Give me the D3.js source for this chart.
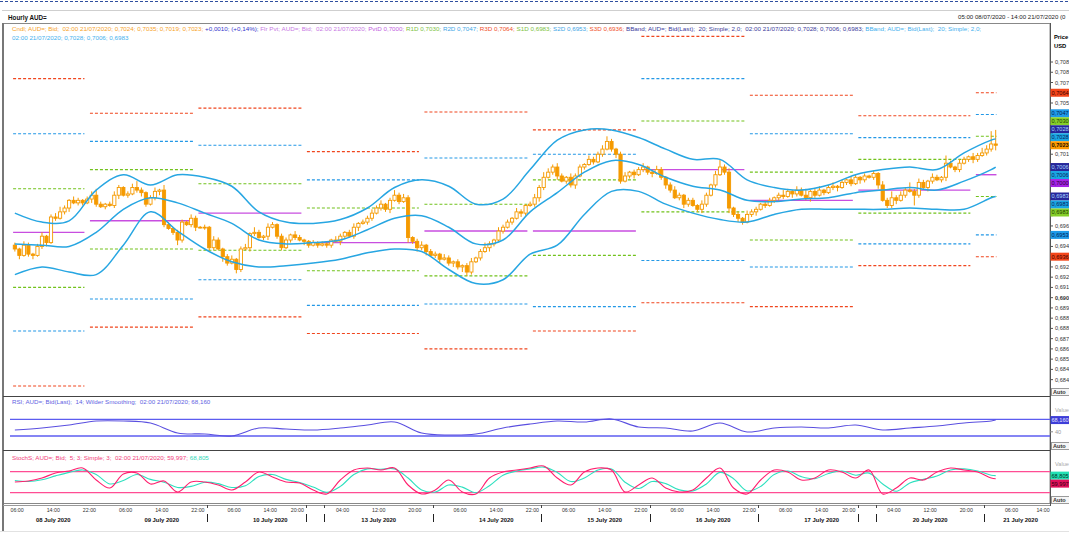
<!DOCTYPE html>
<html>
<head>
<meta charset="utf-8">
<script src="https://cdn.jsdelivr.net/npm/d3@7"></script>
<style>
  body { margin: 0; background: #fff; }
  svg { display: block; font-family: "Liberation Sans", Arial, sans-serif; }
  text { white-space: pre; }
</style>
</head>
<body>
<svg id="chart" width="1069" height="537"></svg>
<script>
// trading sessions shown on the time axis: [date, first hour, last hour]
const sessions = [
  ["2020-07-08", 5, 23], ["2020-07-09", 0, 23], ["2020-07-10", 0, 21],
  ["2020-07-12", 20, 23], ["2020-07-13", 0, 23], ["2020-07-14", 0, 23],
  ["2020-07-15", 0, 23], ["2020-07-16", 0, 23], ["2020-07-17", 0, 21],
  ["2020-07-19", 20, 23], ["2020-07-20", 0, 23], ["2020-07-21", 0, 14]
];

// hourly candles AUD= (prices x 10000), 08/07 05:00 .. 21/07 02:00
const firstOpen = 6945;
const closes = [
  6942,6937,6945,6938,6937,6944,6952,6947,6967,6966,
  6971,6974,6980,6978,6980,6978,6981,6984,6977,6975,
  6977,6976,6984,6990,6984,6985,6990,6988,6986,6977,
  6982,6987,6988,6961,6958,6955,6949,6963,6961,6966,
  6959,6959,6959,6943,6949,6942,6936,6931,6934,6926,
  6942,6943,6954,6955,6951,6952,6959,6961,6952,6943,
  6949,6953,6951,6949,6948,6945,6947,6945,6946,6945,
  6949,6948,6952,6955,6952,6959,6962,6963,6966,6970,
  6974,6977,6973,6980,6984,6979,6982,6951,6948,6943,
  6945,6940,6937,6938,6934,6935,6931,6932,6928,6929,
  6924,6932,6935,6940,6943,6946,6949,6956,6959,6963,
  6966,6971,6970,6976,6977,6982,6990,6998,7002,7006,
  6999,6995,6998,6992,6999,7006,7008,7012,7010,7016,
  7020,7026,7020,7016,6995,6999,7002,7000,7004,7006,
  7002,7001,7004,6998,6992,6988,6982,6984,6977,6980,
  6976,6973,6977,6984,6992,7000,7006,7002,6974,6969,
  6966,6963,6969,6971,6973,6977,6976,6980,6982,6984,
  6983,6987,6985,6988,6984,6982,6987,6984,6988,6986,
  6990,6991,6990,6994,6996,6993,6998,6996,6999,6998,
  7001,6992,6980,6976,6982,6980,6984,6988,6987,6984,
  6994,6990,6995,6998,6996,6998,7009,7006,7004,7009,
  7012,7014,7012,7015,7017,7020,7024,7023
];
const wickUp = [
  2,1,3,2,1,2,3,1,2,3, 4,2,1,3,2,1,2,3,5,2, 1,2,3,2,1,2,3,5,2,1,
  2,3,1,4,2,1,2,2,1,3, 2,1,2,1,3,2,1,2,3,1, 2,3,1,4,2,1,3,2,1,2,
  2,1,3,2,1,1,2,1,2,2, 1,3,2,1,2,3,1,2,2,3, 2,3,1,2,4,2,3,2,1,2,
  3,1,2,2,1,3,2,1,2,1, 2,3,1,2,4,2,1,3,2,2, 1,3,2,1,2,3,2,4,3,2,
  3,2,1,3,2,2,1,3,2,2, 3,4,2,1,2,3,1,2,2,3, 1,2,3,2,1,2,3,2,1,2,
  2,1,3,2,1,3,6,2,3,1, 2,1,3,2,2,1,3,2,1,2, 4,2,1,3,2,5,1,2,3,1,
  2,3,1,2,1,3,2,1,2,1, 2,1,3,2,5,2,3,2,6,2, 3,2,1,3,2,1,6,2,1,3,
  2,1,3,2,4,3,10,11
];
const wickDown = [
  2,3,1,2,3,1,2,3,1,2, 1,2,3,1,2,2,1,3,2,1, 2,1,2,3,1,2,1,2,3,2,
  1,2,3,2,1,2,4,2,1,2, 3,1,2,3,2,1,4,2,1,3, 2,1,3,2,1,2,3,1,2,2,
  1,2,2,1,3,2,1,2,1,2, 2,1,3,2,1,2,3,1,2,2, 1,2,2,3,1,2,1,4,2,3,
  2,3,1,2,3,1,2,3,2,4, 3,2,1,2,1,3,2,1,2,1, 2,1,3,2,1,2,3,2,1,2,
  3,1,2,2,3,1,2,1,2,1, 2,1,2,3,2,1,2,3,1,2, 2,3,1,2,3,2,1,2,3,2,
  1,2,3,2,1,2,1,2,4,2, 3,2,1,2,3,1,2,1,2,3, 2,1,3,2,1,2,3,2,1,2,
  1,2,3,1,2,2,1,3,2,1, 2,3,1,2,2,3,1,2,1,8, 2,1,3,2,1,2,3,1,2,2,
  1,2,3,2,1,2,2,4
];

// floor pivots, one period per forex day (starts at 22:00)
const pivotStarts = ["2020-07-08 05","2020-07-08 22","2020-07-09 22","2020-07-12 20","2020-07-13 22",
                     "2020-07-14 22","2020-07-15 22","2020-07-16 22","2020-07-19 20","2020-07-20 22"];
const pivR3 = [0.7075,0.7048,0.7052,0.7018,0.7049,0.7035,0.7108,0.7062,0.7046,0.7064];
const pivR2 = [0.7032,0.7026,0.7023,0.6996,0.7013,0.7016,0.7075,0.7032,0.7029,0.7047];
const pivR1 = [0.6989,0.7004,0.6993,0.6974,0.6977,0.6996,0.7042,0.7002,0.7012,0.7030];
const pivP  = [0.6955,0.6964,0.6970,0.6947,0.6956,0.6956,0.7004,0.6980,0.6988,0.7000];
const pivS1 = [0.6912,0.6942,0.6941,0.6925,0.6921,0.6937,0.6971,0.6949,0.6970,0.6983];
const pivS2 = [0.6878,0.6903,0.6918,0.6898,0.6899,0.6897,0.6933,0.6928,0.6946,0.6953];
const pivS3 = [0.6835,0.6881,0.6889,0.6876,0.6864,0.6878,0.6900,0.6897,0.6929,0.6936];

// Bollinger band (20; 2,0) read every 6 hours
const bbUpper = [0.6970,0.6963,0.6964,0.6988,0.7000,0.6992,0.7000,0.6998,0.6991,0.6971,
                 0.6963,0.6962,0.6965,0.6974,0.6990,0.6996,0.6991,0.6977,0.6981,0.7004,
                 0.7027,0.7035,0.7035,0.7029,0.7020,0.7012,0.7012,0.6996,0.6990,0.6988,
                 0.6992,0.7000,0.7004,0.7006,0.7004,0.7017,0.7027,0.7028];
const bbMiddle = [0.6946,0.6945,0.6944,0.6955,0.6973,0.6982,0.6978,0.6970,0.6962,0.6949,
                  0.6946,0.6947,0.6949,0.6957,0.6966,0.6968,0.6959,0.6946,0.6949,0.6971,
                  0.6986,0.7002,0.7011,0.7008,0.6998,0.6991,0.6988,0.6980,0.6979,0.6981,
                  0.6982,0.6986,0.6988,0.6990,0.6988,0.6995,0.7004,0.7006];
const bbLower = [0.6922,0.6928,0.6924,0.6922,0.6945,0.6971,0.6956,0.6942,0.6932,0.6928,
                 0.6929,0.6931,0.6934,0.6939,0.6942,0.6940,0.6926,0.6915,0.6918,0.6938,
                 0.6945,0.6969,0.6987,0.6987,0.6977,0.6970,0.6965,0.6963,0.6969,0.6973,
                 0.6973,0.6973,0.6973,0.6974,0.6973,0.6973,0.6982,0.6983];

// RSI 14 read every 6 hours
const rsiValues = [44.4,49.2,56.3,65.9,65.9,61.1,37.2,34.8,30.0,49.2,46.8,44.4,49.2,56.3,63.5,
                   37.2,32.4,34.8,49.2,58.7,65.9,63.5,70.7,51.6,49.2,42.0,61.1,39.6,49.2,51.6,
                   49.2,56.3,44.4,49.2,54.0,61.1,65.9,68.16];

// Slow stochastic (5;3;3) read every 3 hours
const stochK = [50.6,53.4,62,76.3,82,90.6,56.3,33.4,73.4,76.3,44.9,53.4,22,50.6,50.6,42,27.7,50.6,
                79.1,64.9,50.6,47.7,27.7,16.3,56.3,84.9,90.6,84.9,90.6,42,16.3,27.7,56.3,22,16.3,
                62,79.1,84.9,90.6,96.3,62,42,79.1,90.6,84.9,22,42,62,33.4,22,27.7,62,90.6,33.4,
                16.3,56.3,84.9,79.1,56.3,62,84.9,79.1,62,84.9,16.3,33.4,62,56.3,79.1,90.6,84.9,
                79.1,62,59.997];
const stochD = [55,52,57,68,78,85,72,45,55,72,58,50,35,38,50,46,35,40,66,72,58,49,36,21,38,72,88,
                87,88,62,28,22,42,36,20,40,70,82,88,93,78,52,62,85,88,50,32,52,46,28,25,45,78,60,
                25,38,72,82,66,60,75,82,70,76,45,24,48,58,68,85,88,82,70,68.805];

// time axis labels
const tickDays  = ["2020-07-08","2020-07-09","2020-07-10","2020-07-13","2020-07-14",
                   "2020-07-15","2020-07-16","2020-07-17","2020-07-20","2020-07-21"];
const tickHours = [[6,14,22],[6,14,22],[6,14,20],[4,12,20],[6,14,22],
                   [6,14,22],[6,14,22],[6,14,20],[4,12,20],[6,14]];
const dayLabels = ["08 July 2020","09 July 2020","10 July 2020","13 July 2020","14 July 2020",
                   "15 July 2020","16 July 2020","17 July 2020","20 July 2020","21 July 2020"];
const dayLabelHour = [14,14,14,12,14,14,14,14,12,8];
const dayBreaks = ["2020-07-10 00","2020-07-12 20","2020-07-13 00","2020-07-14 00","2020-07-15 00",
                   "2020-07-16 00","2020-07-17 00","2020-07-19 20","2020-07-20 00","2020-07-21 00"];

////////////////////////////////////////////////////////////
const svg = d3.select("#chart");
const pad2 = n => String(n).padStart(2, "0");
const comma = (v, p) => d3.format("." + p + "f")(v).replace(".", ",");

// hourly slots
const slotKeys = [];
sessions.forEach(([d, h0, h1]) => { for (let h = h0; h <= h1; h++) slotKeys.push(d + " " + pad2(h)); });
const slotOf = new Map(slotKeys.map((k, i) => [k, i]));
const nSlots = slotKeys.length;

const x = d3.scaleLinear().domain([0, nSlots]).range([12.6, 12.6 + nSlots * 4.52]);
const y = d3.scaleLinear().domain([0.6828, 0.7113]).range([395, 30]);
const yR = d3.scaleLinear().domain([30, 70]).range([436, 419.3]);
const yS = d3.scaleLinear().domain([20, 80]).range([492.7, 471.7]);

const candles = closes.map((c, i) => {
  const o = i ? closes[i - 1] : firstOpen;
  return { i, o: o / 1e4, c: c / 1e4, h: (Math.max(o, c) + wickUp[i]) / 1e4, l: (Math.min(o, c) - wickDown[i]) / 1e4 };
});
const lastSlot = candles.length - 1;
const bbSlots = d3.range(0, lastSlot, 6).concat(lastSlot);
const stSlots = d3.range(0, lastSlot, 3).concat(lastSlot);

// frame & header
svg.append("line").attr("x1", 0).attr("x2", 1069).attr("y1", 1.5).attr("y2", 1.5)
  .attr("stroke", "#2f4f9f").attr("stroke-dasharray", "3,2");
svg.append("line").attr("x1", 2).attr("x2", 1069).attr("y1", 10.5).attr("y2", 10.5).attr("stroke", "#cfcfcf");
svg.append("text").attr("x", 8).attr("y", 20).attr("font-size", 6.3).attr("font-weight", "bold")
  .attr("fill", "#111").text("Hourly AUD=");
svg.append("text").attr("x", 958).attr("y", 19).attr("font-size", 6.1).attr("fill", "#222")
  .text("05:00 08/07/2020 - 14:00 21/07/2020 (0");

svg.append("rect").attr("x", 3.5).attr("y", 23.5).attr("width", 1046.5).attr("height", 480)
  .attr("fill", "none").attr("stroke", "#888");
svg.append("line").attr("x1", 3).attr("x2", 3).attr("y1", 23).attr("y2", 531).attr("stroke", "#777").attr("stroke-width", 2);
[396.5, 450.5].forEach(v => svg.append("line").attr("x1", 3).attr("x2", 1050).attr("y1", v).attr("y2", v)
  .attr("stroke", "#444"));
svg.append("line").attr("x1", 3).attr("x2", 1050).attr("y1", 505.5).attr("y2", 505.5).attr("stroke", "#999");
svg.append("line").attr("x1", 0).attr("x2", 1069).attr("y1", 531.5).attr("y2", 531.5).attr("stroke", "#e2e2e2");
svg.append("line").attr("x1", 1050.5).attr("x2", 1050.5).attr("y1", 23).attr("y2", 506).attr("stroke", "#555");

// clip for price panel
svg.append("clipPath").attr("id", "clipMain").append("rect")
  .attr("x", 4).attr("y", 24).attr("width", 1046).attr("height", 372);
const gMain = svg.append("g").attr("clip-path", "url(#clipMain)");

// pivots
const levelDefs = [
  { vals: pivR3, color: "#f0461e", dash: "3,2" },
  { vals: pivR2, color: "#2398e6", dash: "3,2" },
  { vals: pivR1, color: "#72c21c", dash: "3,2" },
  { vals: pivP,  color: "#c84ee0", dash: null },
  { vals: pivS1, color: "#72c21c", dash: "3,2" },
  { vals: pivS2, color: "#2398e6", dash: "3,2" },
  { vals: pivS3, color: "#f0461e", dash: "3,2" }
];
const periods = pivotStarts.map((k, j) => ({
  s0: slotOf.get(k),
  s1: j < pivotStarts.length - 1 ? slotOf.get(pivotStarts[j + 1]) : lastSlot + 1
}));
levelDefs.forEach(def => {
  gMain.append("g").selectAll("line").data(periods).join("line")
    .attr("x1", d => x(d.s0) + 0.5).attr("x2", (d, j) => x(d.s1) - (j === periods.length - 1 ? 1.5 : 5))
    .attr("y1", (d, j) => y(def.vals[j])).attr("y2", (d, j) => y(def.vals[j]))
    .attr("stroke", def.color).attr("stroke-width", def.dash ? 1.1 : 1.4)
    .attr("stroke-dasharray", def.dash);
});

// candles
const orange = "#f59a00";
gMain.append("g").selectAll("line").data(candles).join("line")
  .attr("x1", d => x(d.i + 0.5)).attr("x2", d => x(d.i + 0.5))
  .attr("y1", d => y(d.h)).attr("y2", d => y(d.l))
  .attr("stroke", orange).attr("stroke-width", 1);
gMain.append("g").selectAll("rect").data(candles).join("rect")
  .attr("x", d => x(d.i + 0.5) - 1.6).attr("width", 3.2)
  .attr("y", d => y(Math.max(d.o, d.c)))
  .attr("height", d => Math.max(0.8, Math.abs(y(d.o) - y(d.c))))
  .attr("fill", d => d.c >= d.o ? "#fff" : orange)
  .attr("stroke", orange).attr("stroke-width", 0.9);

// bollinger bands
const bbLine = arr => d3.line().x(s => x(s + 0.5)).y((s, k) => y(arr[k])).curve(d3.curveCatmullRom.alpha(0.5));
[bbUpper, bbMiddle, bbLower].forEach(arr => {
  gMain.append("path").attr("d", bbLine(arr)(bbSlots)).attr("fill", "none")
    .attr("stroke", "#27a6e2").attr("stroke-width", 1.5);
});

// legend
function colouredLine(yPos, segments, target, size) {
  const t = svg.append("text").attr("x", 12).attr("y", yPos).attr("font-size", size);
  segments.forEach(([s, c]) => t.append("tspan").attr("fill", c).text(s));
  if (target) {
    const w = t.node().getComputedTextLength();
    size = size * target / w;
    t.attr("font-size", size);
  }
  return size;
}
const fsLegend = colouredLine(30.5, [
  ["Cndl; AUD=; Bid;  02:00 21/07/2020; 0,7024; 0,7035; 0,7019; 0,7023; ", "#f7a21f"],
  ["+0,0010; (+0,14%); ", "#3333cc"],
  ["Flr Pvt; AUD=; Bid;  02:00 21/07/2020; ", "#c878e4"],
  ["PvtD 0,7000; ", "#c25ee0"],
  ["R1D 0,7030; ", "#7cc242"],
  ["R2D 0,7047; ", "#3ea6e6"],
  ["R3D 0,7064; ", "#f0502a"],
  ["S1D 0,6983; ", "#7cc242"],
  ["S2D 0,6953; ", "#3ea6e6"],
  ["S3D 0,6936; ", "#f0502a"],
  ["BBand; AUD=; Bid(Last);  20; Simple; 2,0;  02:00 21/07/2020; 0,7028; 0,7006; 0,6983; ", "#3a3a9c"],
  ["BBand; AUD=; Bid(Last);  20; Simple; 2,0;", "#3fb0ee"]
], 970, 6);
colouredLine(40, [["02:00 21/07/2020; 0,7028; 0,7006; 0,6983", "#3fb0ee"]], null, fsLegend);
colouredLine(404, [["RSI; AUD=; Bid(Last);  14; Wilder Smoothing;  02:00 21/07/2020; 68,160", "#6262e2"]], 199, 6);
colouredLine(460, [["StochS; AUD=; Bid;  5; 3; Simple; 3;  02:00 21/07/2020; 59,997; ", "#f2407c"],
                   ["68,805", "#2fd8b8"]], 197, 6);

// value boxes on the right axis (positions resolved first, drawn last)
function stackBoxes(items, scale, anchor, h) {
  items.forEach(d => d.y = scale(d.v));
  for (let k = anchor - 1; k >= 0; k--) items[k].y = Math.min(items[k].y, items[k + 1].y - h);
  for (let k = anchor + 1; k < items.length; k++) items[k].y = Math.max(items[k].y, items[k - 1].y + h);
  return items;
}
function drawBoxes(items, h) {
  const g = svg.append("g");
  items.forEach(d => {
    g.append("rect").attr("x", 1050.5).attr("y", d.y - h / 2).attr("width", 22).attr("height", h).attr("fill", d.fill);
    g.append("text").attr("x", 1051.5).attr("y", d.y + 2).attr("font-size", 5.6).attr("fill", d.tc)
      .attr("font-weight", d.bold ? "bold" : null).text(d.label);
  });
}
const lastK = pivP.length - 1, lastB = bbUpper.length - 1;
const navy = "#26269a", cyan = "#19a6e2";
const mainBoxes = stackBoxes([
  { v: pivR3[lastK], fill: "#f4461a", tc: "#3a0000" },
  { v: pivR2[lastK], fill: "#1f9ae8", tc: "#001f55" },
  { v: pivR1[lastK], fill: "#86cf2a", tc: "#1c3a00" },
  { v: bbUpper[lastB], fill: navy, tc: "#a9d8ff" },
  { v: bbUpper[lastB], fill: cyan, tc: "#0c1c60" },
  { v: candles[lastSlot].c, fill: "#ff9a00", tc: "#1a1000", bold: true },
  { v: bbMiddle[lastB], fill: navy, tc: "#a9d8ff" },
  { v: bbMiddle[lastB], fill: cyan, tc: "#0c1c60" },
  { v: pivP[lastK], fill: "#a424e6", tc: "#2a0038" },
  { v: bbLower[lastB], fill: navy, tc: "#a9d8ff" },
  { v: bbLower[lastB], fill: cyan, tc: "#0c1c60" },
  { v: pivS1[lastK], fill: "#86cf2a", tc: "#1c3a00" },
  { v: pivS2[lastK], fill: "#1f9ae8", tc: "#001f55" },
  { v: pivS3[lastK], fill: "#f4461a", tc: "#3a0000" }
].map(d => Object.assign(d, { label: comma(d.v, 4) })), y, 5, 8);

// price axis (labels hidden where a value box covers them)
const yTicks = d3.range(855, 887).map(k => k * 0.0008);
const freeTick = d => mainBoxes.every(b => Math.abs(b.y - y(d)) > 6.5);
const gAx = svg.append("g");
gAx.selectAll("line").data(yTicks).join("line")
  .attr("x1", 1050).attr("x2", 1053).attr("y1", d => y(d)).attr("y2", d => y(d)).attr("stroke", "#555");
gAx.selectAll("text").data(yTicks.filter(freeTick)).join("text")
  .attr("x", 1055).attr("y", d => y(d) + 2).attr("font-size", 5.6).attr("fill", "#333")
  .attr("font-weight", d => Math.abs(d - 0.6904) < 1e-6 ? "bold" : null)
  .text(d => comma(d, 4));
svg.append("text").attr("x", 1054).attr("y", 39).attr("font-size", 5.8).attr("font-weight", "bold").text("Price");
svg.append("text").attr("x", 1054).attr("y", 48).attr("font-size", 5.8).attr("font-weight", "bold").text("USD");
drawBoxes(mainBoxes, 8);

// RSI panel
svg.append("g").selectAll("line").data([70, 30]).join("line")
  .attr("x1", 10).attr("x2", 1050).attr("y1", d => yR(d)).attr("y2", d => yR(d))
  .attr("stroke", "#5c5cf0").attr("stroke-width", 1.3);
svg.append("path").attr("d", d3.line().x(s => x(s + 0.5)).y((s, k) => yR(rsiValues[k]))
    .curve(d3.curveCatmullRom)(bbSlots))
  .attr("fill", "none").attr("stroke", "#5a4fe0").attr("stroke-width", 1.1);
svg.append("text").attr("x", 1055).attr("y", 412).attr("font-size", 5.6).attr("fill", "#aaa").text("Value");
svg.append("line").attr("x1", 1050).attr("x2", 1053).attr("y1", yR(40)).attr("y2", yR(40)).attr("stroke", "#888");
svg.append("text").attr("x", 1055).attr("y", yR(40) + 2).attr("font-size", 5.6).attr("fill", "#999").text("40");
drawBoxes(stackBoxes([{ v: rsiValues[rsiValues.length - 1], fill: "#3d3dd8", tc: "#e6e6ff", label: "68,160" }], yR, 0, 8), 8);

// Stochastic panel
svg.append("g").selectAll("line").data([80, 20]).join("line")
  .attr("x1", 10).attr("x2", 1050).attr("y1", d => yS(d)).attr("y2", d => yS(d))
  .attr("stroke", "#ff4d94").attr("stroke-width", 1.3);
[[stochD, "#2ee0bf"], [stochK, "#ff1f6e"]].forEach(([arr, c]) => {
  svg.append("path").attr("d", d3.line().x(s => x(s + 0.5)).y((s, k) => yS(arr[k]))
      .curve(d3.curveCatmullRom)(stSlots))
    .attr("fill", "none").attr("stroke", c).attr("stroke-width", 1.1);
});
svg.append("text").attr("x", 1055).attr("y", 466).attr("font-size", 5.6).attr("fill", "#aaa").text("Value");
drawBoxes(stackBoxes([
  { v: stochD[stochD.length - 1], fill: "#22e0b4", tc: "#003322", label: "68,805" },
  { v: stochK[stochK.length - 1], fill: "#e0105a", tc: "#300010", label: "59,997" }
], yS, 0, 8), 8);

// Auto buttons
[388, 442, 496].forEach(v => {
  svg.append("rect").attr("x", 1051.5).attr("y", v + 0.5).attr("width", 20).attr("height", 7)
    .attr("fill", "#f6f6f6").attr("stroke", "#9a9a9a");
  svg.append("text").attr("x", 1053).attr("y", v + 6).attr("font-size", 5.6).attr("font-weight", "bold")
    .attr("fill", "#333").text("Auto");
});

// time axis
const gT = svg.append("g");
tickDays.forEach((d, j) => {
  tickHours[j].forEach((h, m) => {
    const s = slotOf.get(d + " " + pad2(h));
    const isLast = j === tickDays.length - 1 && m === tickHours[j].length - 1;
    gT.append("text").attr("x", isLast ? x(s) + 2 : x(s)).attr("y", 512)
      .attr("text-anchor", isLast ? "end" : "middle")
      .attr("font-size", 5.3).attr("fill", "#333").text(pad2(h) + ":00");
  });
  gT.append("text").attr("x", x(slotOf.get(d + " " + pad2(dayLabelHour[j])))).attr("y", 521.5)
    .attr("text-anchor", "middle").attr("font-size", 5.9).attr("font-weight", "bold")
    .attr("fill", "#111").text(dayLabels[j]);
});
dayBreaks.forEach(k => {
  const xv = Math.round(x(slotOf.get(k))) + 0.5;
  gT.append("line").attr("x1", xv).attr("x2", xv).attr("y1", 505).attr("y2", 508).attr("stroke", "#444");
  gT.append("line").attr("x1", xv).attr("x2", xv).attr("y1", 514).attr("y2", 522).attr("stroke", "#222");
});
</script>
</body>
</html>
